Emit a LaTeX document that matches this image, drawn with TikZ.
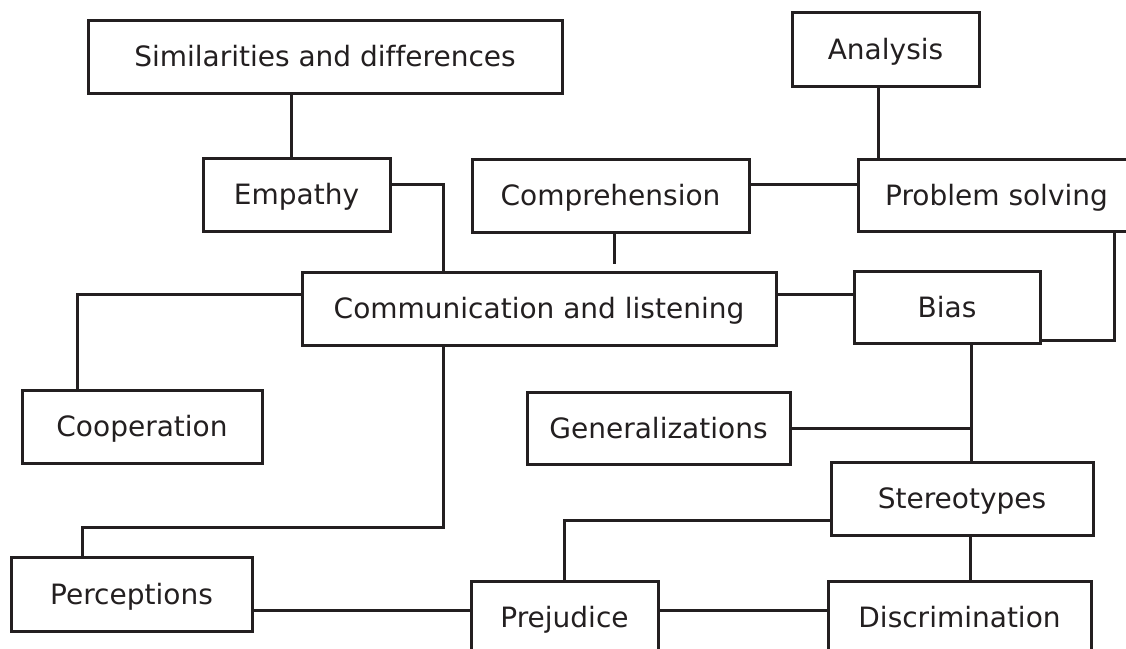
\documentclass[tikz,border=0pt]{standalone}
\usepackage{fontspec}
\newfontfamily\boxfont[Ligatures=NoCommon]{DejaVu Sans}
\definecolor{ink}{HTML}{231F20}
\begin{document}
\begin{tikzpicture}[x=1pt,y=-1pt,
  box/.style={draw=ink, text=ink, line width=3pt, inner sep=0pt,
    text height=20.5pt, text depth=0pt, minimum height=73pt,
    font=\boxfont\fontsize{28}{34}\selectfont},
  link/.style={draw=ink, line width=3pt}]
\useasboundingbox (0,0) rectangle (1126,648);
\clip (0,0) rectangle (1126,648);
\fill[white] (0,0) rectangle (1126,648);

\node[box, minimum width=474pt] (sim)  at (325,56.5)   {Similarities and differences};
\node[box, minimum width=187pt, minimum height=74pt] (ana) at (885.5,49) {Analysis};
\node[box, minimum width=187pt] (emp)  at (296.5,194.5) {Empathy};
\node[box, minimum width=277pt] (comp) at (610.5,195.5) {Comprehension};
\node[box, minimum width=277pt, minimum height=72pt] (ps) at (996.5,195) {Problem solving};
\node[box, minimum width=474pt] (comm) at (539,308.5)   {Communication and listening};
\node[box, minimum width=186pt, minimum height=72pt] (bias) at (947,307) {Bias};
\node[box, minimum width=240pt] (coop) at (142,426.5)   {Cooperation};
\node[box, minimum width=263pt, minimum height=72pt] (gen) at (658.5,428) {Generalizations};
\node[box, minimum width=262pt] (ster) at (962,498.5)   {Stereotypes};
\node[box, minimum width=241pt, minimum height=74pt] (perc) at (131.5,594) {Perceptions};
\node[box, minimum width=187pt] (prej) at (564.5,617.5) {Prejudice};
\node[box, minimum width=263pt] (disc) at (959.5,617.5) {Discrimination};

\coordinate (bs) at ([xshift=24pt]bias.south);
\coordinate (stub) at ([xshift=3.5pt,yshift=-30pt]comp.south);

\draw[link] ([xshift=-5.5pt]emp.north) -- ([xshift=-5.5pt]emp.north |- sim.south);
\draw[link] ([xshift=-7.5pt]ana.south) -- ([xshift=-7.5pt]ana.south |- ps.north);
\draw[link] ([yshift=11.5pt]comp.east) -- ([yshift=11.5pt]comp.east -| ps.west);
\draw[link] ([yshift=10.5pt]emp.east) -| ([xshift=-96pt]comm.north);
\draw[link] ([xshift=3.5pt]comp.south) -- (stub);
\draw[link] ([yshift=14.5pt]comm.west) -| ([xshift=-65pt]coop.north);
\draw[link] ([yshift=14.5pt]comm.east) -- ([yshift=14.5pt]comm.east -| bias.west);
\draw[link] ([xshift=117.5pt]ps.south) |- ([yshift=-33pt]bias.east);
\draw[link] ([xshift=-96pt]comm.south) -- ++(0,181) -| ([xshift=-49.5pt]perc.north);
\draw[link] (bs) -- (bs |- ster.north);
\draw[link] (gen.east) -- (gen.east -| bs);
\draw[link] ([yshift=-21.5pt]ster.west) -| (prej.north);
\draw[link] ([xshift=8pt]ster.south) -- ([xshift=8pt]ster.south |- disc.north);
\draw[link] ([yshift=-16pt]perc.east) -- ([yshift=-16pt]perc.east -| prej.west);
\draw[link] ([yshift=7.5pt]prej.east) -- ([yshift=7.5pt]prej.east -| disc.west);
\end{tikzpicture}
\end{document}
